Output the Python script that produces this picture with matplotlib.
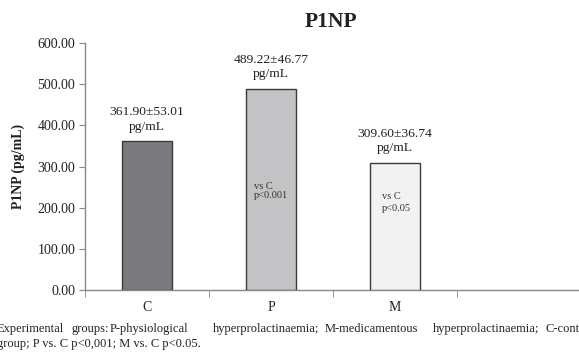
import matplotlib
matplotlib.use("Agg")
import matplotlib.pyplot as plt

categories = ["C", "P", "M", ""]
means = [361.90, 489.22, 309.60]
sds = [53.01, 46.77, 36.74]
bar_colors = ["#7b7b7f", "#c3c3c5", "#f1f2f1"]
inner_notes = ["", "vs C\np<0.001", "vs C\np<0.05"]
yticks = [0, 100, 200, 300, 400, 500, 600]
title = "P1NP"
ylabel = "P1NP (pg/mL)"
foot_words1 = ["Experimental", "groups:", "P-physiological", "hyperprolactinaemia;",
               "M-medicamentous", "hyperprolactinaemia;", "C-control"]
foot_x1 = [-3, 71, 110, 213, 325, 433, 545]
foot_line2 = "group; P vs. C p<0,001; M vs. C p<0.05."

plt.rcParams['font.family'] = ['Liberation Serif', 'DejaVu Serif']

W, H = 579, 356
fig = plt.figure(figsize=(W / 100, H / 100), dpi=100)
ax = fig.add_axes([85 / W, (H - 290) / H, 496 / W, 247 / H])
ax.set_xlim(0.5, 4.5)
ax.set_ylim(0, 600)

xs = list(range(1, len(means) + 1))
ax.bar(xs, means, width=0.4, color=bar_colors, edgecolor="#3a3a3a", linewidth=1.0, zorder=3)

for x, m, s in zip(xs, means, sds):
    ax.text(x, m + 20, f"{m:.2f}±{s:.2f}\npg/mL", ha="center", va="bottom",
            fontsize=9.7, color="#222222", linespacing=1.3)

# note placement (styling): x offset from bar left edge, top y, line spacing
note_style = [None, (0.065, 262, 1.0), (0.097, 238, 1.45)]
for x, note, st in zip(xs, inner_notes, note_style):
    if note:
        ax.text(x - 0.2 + st[0], st[1], note, ha="left", va="top",
                fontsize=7.5, color="#333333", linespacing=st[2])

ax.set_yticks(yticks)
ax.set_yticklabels([f"{v:.2f}" for v in yticks], fontsize=10, color="#222222")
ax.set_xticks([1, 2, 3, 4])
ax.set_xticklabels(categories, fontsize=10, color="#222222")
ax.set_xticks([0.5, 1.5, 2.5, 3.5, 4.5], minor=True)
ax.tick_params(axis="x", which="major", length=0, pad=8)
ax.tick_params(axis="x", which="minor", length=5, color="#888888", direction="out")
ax.tick_params(axis="y", length=4, color="#888888", direction="out", pad=3)

for side in ["top", "right"]:
    ax.spines[side].set_visible(False)
for side in ["left", "bottom"]:
    ax.spines[side].set_color("#888888")
    ax.spines[side].set_linewidth(1.0)

ax.set_ylabel(ylabel, fontsize=10, fontweight="bold", color="#222222")
ax.yaxis.set_label_coords(-0.12, 0.5)

fig.text(331 / W, 1 - 22 / H, title, ha="center", va="center", fontsize=15.5,
         fontweight="bold", color="#222222")

for w, x in zip(foot_words1, foot_x1):
    fig.text(x / W, 1 - 329 / H, w, ha="left", va="center", fontsize=9, color="#222222")
fig.text(-3 / W, 1 - 344 / H, foot_line2, ha="left", va="center", fontsize=9, color="#222222")

fig.savefig("out.png", dpi=100)
